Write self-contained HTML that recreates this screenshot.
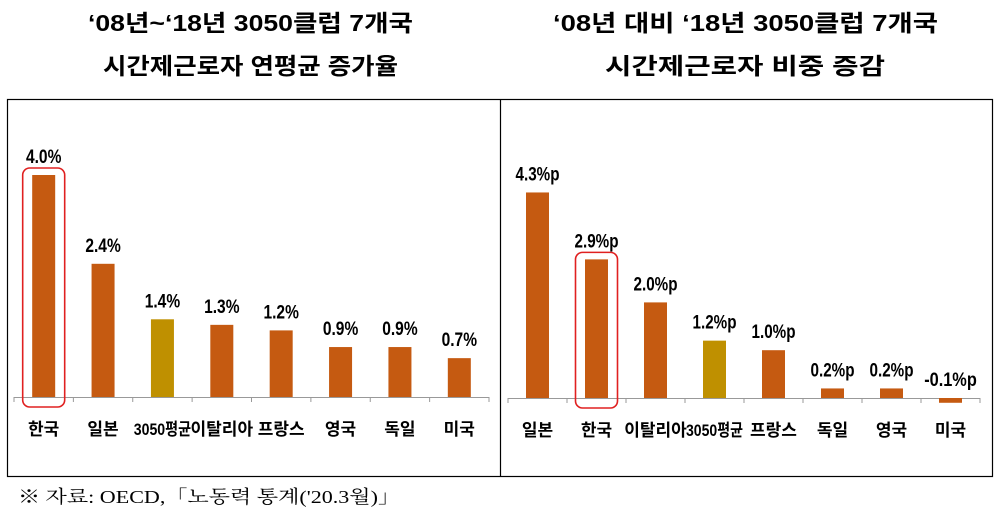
<!DOCTYPE html>
<html><head><meta charset="utf-8">
<style>
body{margin:0;background:#fff;width:1001px;height:514px;overflow:hidden}
svg{display:block}
.t{font-family:"Liberation Sans","Noto Sans CJK KR",sans-serif;font-weight:bold;font-size:23px;fill:#000}
.v{font-family:"Liberation Sans","Noto Sans CJK KR",sans-serif;font-weight:bold;font-size:19px;fill:#000}
.c{font-family:"Liberation Sans","Noto Sans CJK KR",sans-serif;font-weight:bold;font-size:17px;fill:#000}
.f{font-family:"Liberation Serif","Noto Serif CJK SC",serif;font-size:18px;fill:#000}
</style></head><body>
<svg id="s" width="1001" height="514">
<text class="t" x="88" y="31" textLength="325" lengthAdjust="spacingAndGlyphs">‘08년~‘18년 3050클럽 7개국</text>
<text class="t" x="103" y="74" textLength="295" lengthAdjust="spacingAndGlyphs">시간제근로자 연평균 증가율</text>
<text class="t" x="553" y="31" textLength="385" lengthAdjust="spacingAndGlyphs">‘08년 대비 ‘18년 3050클럽 7개국</text>
<text class="t" x="605" y="74" textLength="280" lengthAdjust="spacingAndGlyphs">시간제근로자 비중 증감</text>
<rect x="7.5" y="99.5" width="985" height="377" fill="none" stroke="#000" stroke-width="1.2"/>
<line x1="500.5" y1="99" x2="500.5" y2="477" stroke="#000" stroke-width="1.2"/>
<g id="g1"></g>
<g id="g2"></g>
<text class="f" x="18" y="503" textLength="382" lengthAdjust="spacingAndGlyphs">※ 자료:  OECD,「노동력  통계('20.3월)」</text>
</svg>
<script>
const leftCats=["한국","일본","3050평균","이탈리아","프랑스","영국","독일","미국"];
const leftVals=[4.0,2.4,1.4,1.3,1.2,0.9,0.9,0.7];
const leftLabels=["4.0%","2.4%","1.4%","1.3%","1.2%","0.9%","0.9%","0.7%"];
const rightCats=["일본","한국","이탈리아","3050평균","프랑스","독일","영국","미국"];
const rightVals=[4.3,2.9,2.0,1.2,1.0,0.2,0.2,-0.1];
const rightLabels=["4.3%p","2.9%p","2.0%p","1.2%p","1.0%p","0.2%p","0.2%p","-0.1%p"];
const NS="http://www.w3.org/2000/svg";
function mk(t,a,p){const e=document.createElementNS(NS,t);for(const k in a)e.setAttribute(k,a[k]);p.appendChild(e);return e;}
function draw(gid,cats,vals,labels,x0,x1,y0,scale,hiName,pfx){
  const g=document.getElementById(gid);
  const step=(x1-x0)/cats.length;
  const yS=v=>y0-v*scale;
  const ax=mk('line',{x1:x0,y1:y0+0.5,x2:x1,y2:y0+0.5,stroke:'#999','stroke-width':1},g);
  
  
  for(let i=0;i<=cats.length;i++){
    const tk=mk('line',{x1:x0+i*step,y1:y0,x2:x0+i*step,y2:y0+5,stroke:'#999'},g);
    
    
  }
  cats.forEach((c,i)=>{
    const cx=x0+(i+0.5)*step,v=vals[i];
    const top=Math.min(yS(v),y0),h=Math.abs(yS(v)-y0);
    const b=mk('rect',{x:cx-11.5,y:top,width:23,height:Math.max(h,0.5),fill:c==="3050평균"?'#BF9000':'#C55A11'},g);
    
    
    const ly=(v>=0?yS(v):y0)-12;
    const lab=labels[i];
    const t=mk('text',{x:cx,y:ly,'text-anchor':'middle','class':'v',textLength:lab.length*8.6+1,lengthAdjust:'spacingAndGlyphs'},g);t.textContent=lab;
    
    
    const cl=mk('text',{x:cx,y:y0+38,'text-anchor':'middle','class':'c'},g);cl.textContent=c;
    if(c==="3050평균")cl.setAttribute('textLength',Math.min(58,step-2)),cl.setAttribute('lengthAdjust','spacingAndGlyphs');
    
    
    if(c===hiName){
      const r=mk('rect',{x:cx-21,y:(v>=0?yS(v):y0)-7,width:42,height:y0+10-((v>=0?yS(v):y0)-7),rx:7,fill:'none',stroke:'#E02020','stroke-width':1.6},g);
      
      
    }
  });
}
draw('g1',leftCats,leftVals,leftLabels,14,489,397,55.5,"한국","left");
draw('g2',rightCats,rightVals,rightLabels,508,980,398,47.8,"한국","right");
</script>
</body></html>
